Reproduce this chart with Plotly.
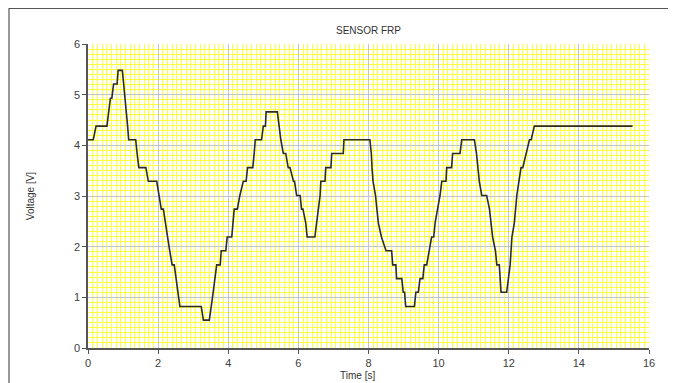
import plotly.graph_objects as go

# Vertices of the sensor trace (time in s, voltage in V)
time_s = [0, 0.15, 0.23, 0.54, 0.59, 0.64, 0.68, 0.73, 0.83, 0.86, 0.98,
          1.02, 1.06, 1.10, 1.13, 1.16, 1.36, 1.40, 1.45, 1.65, 1.72, 1.96,
          2.03, 2.09, 2.15, 2.20, 2.27, 2.33, 2.40, 2.46, 2.51, 2.56, 2.62,
          3.23, 3.29, 3.46, 3.52, 3.57, 3.62, 3.67, 3.77, 3.80, 3.93, 3.97,
          4.10, 4.13, 4.17, 4.26, 4.33, 4.43, 4.51, 4.55, 4.70, 4.74, 4.77,
          4.95, 5.00, 5.06, 5.08, 5.40, 5.45, 5.50, 5.57, 5.64, 5.71, 5.76,
          5.86, 5.89, 5.95, 6.05, 6.09, 6.13, 6.21, 6.25, 6.47, 6.53, 6.57,
          6.62, 6.64, 6.76, 6.78, 6.93, 6.95, 7.28, 7.30, 8.04, 8.08, 8.10,
          8.13, 8.20, 8.28, 8.37, 8.50, 8.66, 8.69, 8.78, 8.80, 8.95, 8.99,
          9.03, 9.06, 9.31, 9.35, 9.42, 9.47, 9.55, 9.59, 9.66, 9.74, 9.80,
          9.86, 9.90, 9.97, 10.04, 10.09, 10.21, 10.23, 10.37, 10.40, 10.61,
          10.66, 11.02, 11.08, 11.16, 11.23, 11.37, 11.45, 11.54, 11.62, 11.66,
          11.73, 11.76, 11.78, 11.94, 12.00, 12.04, 12.09, 12.16, 12.23, 12.28,
          12.35, 12.40, 12.49, 12.59, 12.64, 12.73, 15.53]
voltage_v = [4.11, 4.11, 4.38, 4.38, 4.66, 4.93, 4.93, 5.21, 5.21, 5.48, 5.48,
             5.21, 4.93, 4.66, 4.38, 4.11, 4.11, 3.84, 3.56, 3.56, 3.29, 3.29,
             3.01, 2.74, 2.74, 2.47, 2.19, 1.92, 1.64, 1.64, 1.37, 1.10, 0.82,
             0.82, 0.55, 0.55, 0.82, 1.10, 1.37, 1.64, 1.64, 1.92, 1.92, 2.19,
             2.19, 2.47, 2.74, 2.74, 3.01, 3.29, 3.29, 3.56, 3.56, 3.84, 4.11,
             4.11, 4.38, 4.38, 4.66, 4.66, 4.38, 4.11, 3.84, 3.84, 3.56, 3.56,
             3.29, 3.29, 3.01, 3.01, 2.74, 2.74, 2.47, 2.19, 2.19, 2.47, 2.74,
             3.01, 3.29, 3.29, 3.56, 3.56, 3.84, 3.84, 4.11, 4.11, 3.84, 3.56,
             3.29, 3.01, 2.47, 2.19, 1.92, 1.92, 1.64, 1.64, 1.37, 1.37, 1.10,
             1.10, 0.82, 0.82, 1.10, 1.10, 1.37, 1.37, 1.64, 1.64, 1.92, 2.19,
             2.19, 2.47, 2.74, 3.01, 3.29, 3.29, 3.56, 3.56, 3.84, 3.84,
             4.11, 4.11, 3.84, 3.29, 3.01, 3.01, 2.74, 2.19, 1.92, 1.64,
             1.64, 1.37, 1.10, 1.10, 1.37, 1.64, 2.19, 2.47, 3.01, 3.29,
             3.56, 3.56, 3.84, 4.11, 4.11, 4.38, 4.38]

x_ticks = [0, 2, 4, 6, 8, 10, 12, 14, 16]
y_ticks = [0, 1, 2, 3, 4, 5, 6]

FONT = "Liberation Sans, Arial, sans-serif"
W, H = 676, 383

fig = go.Figure()
fig.add_trace(go.Scatter(
    x=time_s, y=voltage_v, mode="lines",
    line=dict(color="#2b2b2b", width=1.6),
    showlegend=False, hoverinfo="skip",
))

axis_common = dict(
    showgrid=True, gridcolor="#c4c4c4", gridwidth=1,
    showline=True, linecolor="#555555", linewidth=1.5,
    ticks="outside", ticklen=4, tickcolor="#555555", tickwidth=1,
    zeroline=False, mirror=False,
    tickfont=dict(family=FONT, size=11, color="#404040"),
)

fig.update_xaxes(range=[0, 16], tickvals=x_ticks,
                 minor=dict(dtick=2 / 15, showgrid=True, gridcolor="#ffff40",
                            gridwidth=1, ticks=""),
                 **axis_common)
fig.update_yaxes(range=[0, 6], tickvals=y_ticks,
                 minor=dict(dtick=0.1, showgrid=True, gridcolor="#ffff40",
                            gridwidth=1, ticks=""),
                 **axis_common)

fig.update_layout(
    width=W, height=H,
    margin=dict(l=80, r=35, t=36, b=43),
    paper_bgcolor="white", plot_bgcolor="white",
    title=dict(text="SENSOR FRP", x=360.5 / W, xref="container",
               y=1 - 22 / H, yref="container",
               xanchor="center", yanchor="middle",
               font=dict(family=FONT, size=10, color="#333333")),
    shapes=[dict(type="rect", xref="paper", yref="paper",
                 x0=-0.1408, x1=1.08, y0=-0.2, y1=1.1168,
                 line=dict(color="#555555", width=1.2), layer="below")],
    annotations=[
        dict(text="Voltage [V]", xref="paper", yref="paper",
             x=-0.103, y=0.5, textangle=-90, showarrow=False,
             xanchor="center", yanchor="middle",
             font=dict(family=FONT, size=10, color="#333333")),
        dict(text="Time [s]", xref="paper", yref="paper",
             x=0.481, y=-0.092, showarrow=False,
             xanchor="center", yanchor="middle",
             font=dict(family=FONT, size=10, color="#333333")),
    ],
)

fig.write_html("out.html")
